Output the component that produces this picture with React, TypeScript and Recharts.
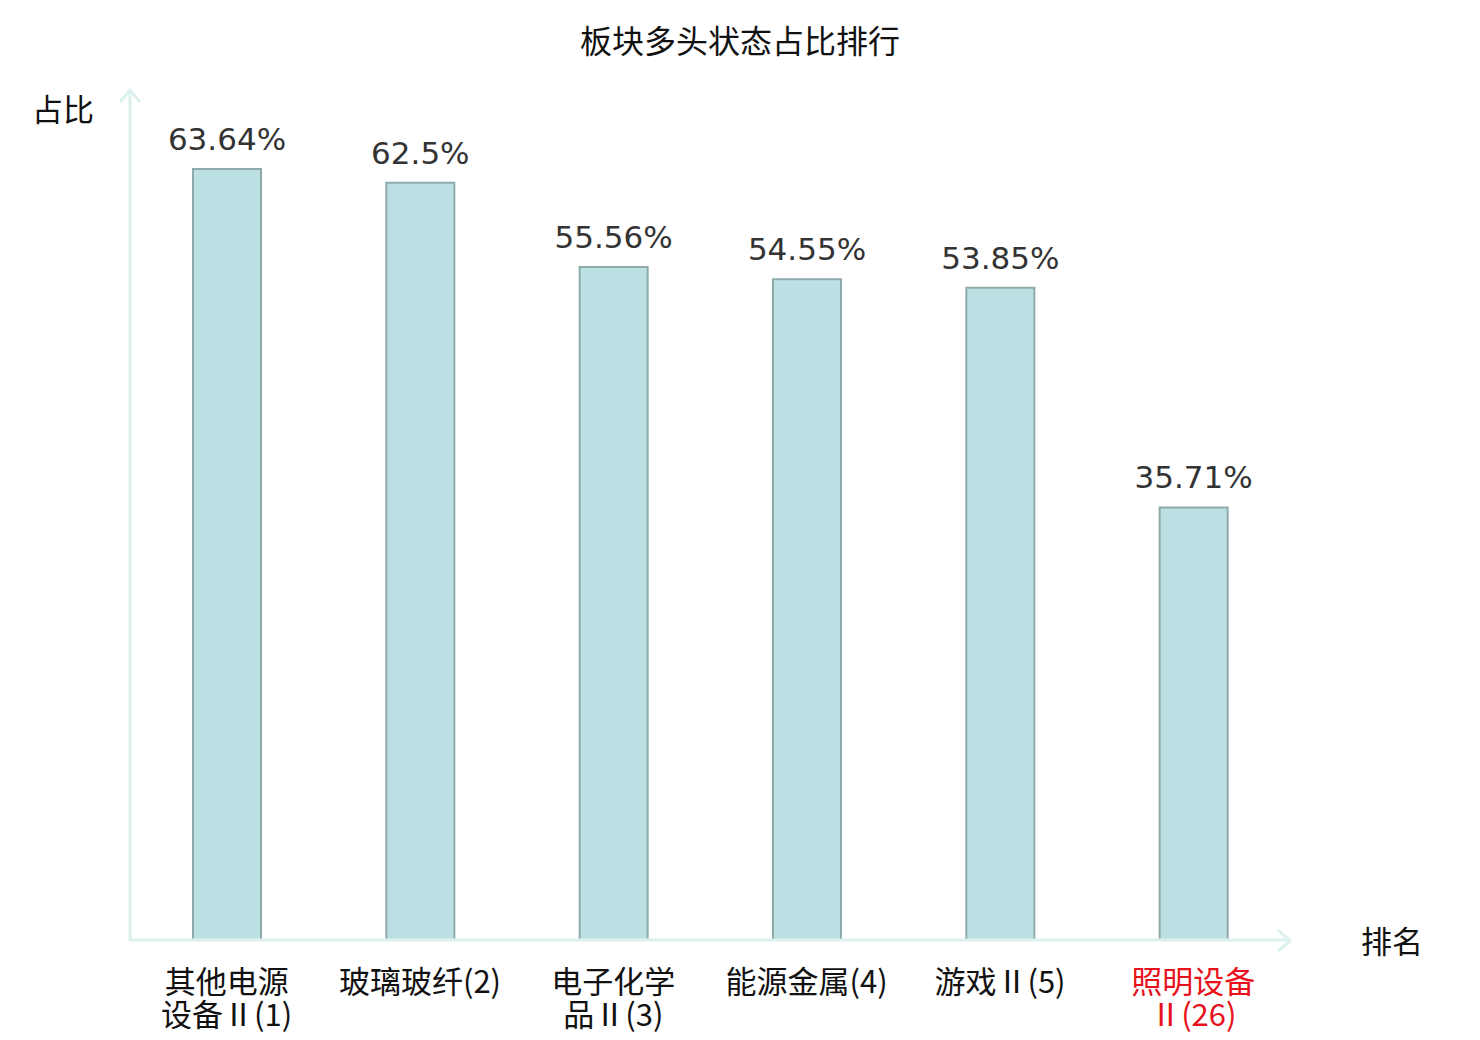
import React from 'react';
import { BarChart, Bar, XAxis, YAxis, LabelList } from 'recharts';

const categories = ['其他电源\n设备Ⅱ(1)', '玻璃玻纤(2)', '电子化学\n品Ⅱ(3)', '能源金属(4)', '游戏Ⅱ(5)', '照明设备\nⅡ(26)'];
const ratios = [63.64, 62.5, 55.56, 54.55, 53.85, 35.71];
const highlighted = ['照明设备\nⅡ(26)'];

const data = categories.map((name, i) => ({ name, ratio: ratios[i] }));

const W = 1480;
const H = 1040;
const PLOT_LEFT = 130;
const PLOT_RIGHT = 1290;
const PLOT_TOP = 92;
const PLOT_BOTTOM = 940;
const AXIS_COLOR = '#dcf1ee';
const CJK = '"Noto Sans CJK SC", "Noto Sans", sans-serif';

function CategoryTick(props: any) {
  const { x, y, payload } = props;
  const lines: string[] = String(payload.value).split('\n');
  const red = highlighted.includes(payload.value);
  return (
    <text
      x={x}
      y={y}
      textAnchor="middle"
      fontFamily={CJK}
      fontSize={31}
      fill={red ? '#e8101a' : '#111'}
    >
      {lines.map((l, i) => (
        <tspan key={i} x={x} dy={i === 0 ? 45 : 33}>
          {l}
        </tspan>
      ))}
    </text>
  );
}

export default function App() {
  return (
    <div style={{ position: 'absolute', left: 0, top: 0, width: W, height: H, background: '#fff' }}>
      <BarChart
        width={W}
        height={H}
        data={data}
        margin={{ top: PLOT_TOP, left: PLOT_LEFT, right: W - PLOT_RIGHT, bottom: 0 }}
      >
        <XAxis
          dataKey="name"
          interval={0}
          height={H - PLOT_BOTTOM}
          axisLine={{ stroke: AXIS_COLOR, strokeWidth: 3 }}
          tickLine={false}
          tick={<CategoryTick />}
        />
        <YAxis hide domain={[0, 70]} />
        <Bar
          dataKey="ratio"
          fill="#bce0e3"
          stroke="#8eaaaa"
          strokeWidth={2}
          barSize={68}
          isAnimationActive={false}
        >
          <LabelList
            dataKey="ratio"
            position="top"
            offset={19}
            formatter={(v: any) => `${v}%`}
            style={{ fontFamily: '"DejaVu Sans", sans-serif', fontSize: 31, fill: '#333' }}
          />
        </Bar>
      </BarChart>
      <svg
        width={W}
        height={H}
        style={{ position: 'absolute', left: 0, top: 0, pointerEvents: 'none' }}
      >
        <line x1={PLOT_LEFT} y1={PLOT_TOP - 2} x2={PLOT_LEFT} y2={PLOT_BOTTOM + 1} stroke={AXIS_COLOR} strokeWidth={3} />
        <polyline
          points={`${PLOT_LEFT - 10},${PLOT_TOP + 10} ${PLOT_LEFT},${PLOT_TOP - 2} ${PLOT_LEFT + 10},${PLOT_TOP + 10}`}
          fill="none"
          stroke={AXIS_COLOR}
          strokeWidth={3}
        />
        <polyline
          points={`${PLOT_RIGHT - 12},${PLOT_BOTTOM - 10} ${PLOT_RIGHT},${PLOT_BOTTOM + 1} ${PLOT_RIGHT - 12},${PLOT_BOTTOM + 11}`}
          fill="none"
          stroke={AXIS_COLOR}
          strokeWidth={3}
        />
        <text x={740} y={53} textAnchor="middle" fontFamily={CJK} fontSize={32} fill="#111">
          板块多头状态占比排行
        </text>
        <text x={63} y={121} textAnchor="middle" fontFamily={CJK} fontSize={31} fill="#111">
          占比
        </text>
        <text x={1392} y={953} textAnchor="middle" fontFamily={CJK} fontSize={31} fill="#111">
          排名
        </text>
      </svg>
    </div>
  );
}
